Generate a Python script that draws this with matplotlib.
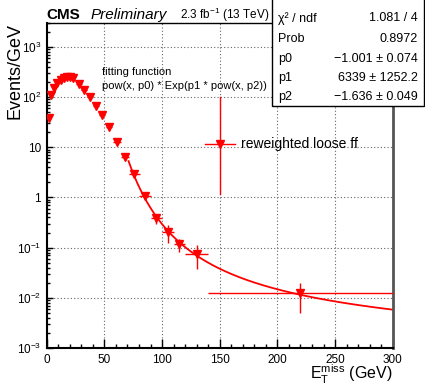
import matplotlib
matplotlib.use("Agg")
import matplotlib.pyplot as plt
import numpy as np
from matplotlib.patches import Rectangle
from matplotlib.ticker import MultipleLocator, LogLocator, FuncFormatter, NullFormatter

plt.rcParams['font.family'] = ['Liberation Sans', 'DejaVu Sans']
plt.rcParams['mathtext.fontset'] = 'custom'
plt.rcParams['mathtext.rm'] = 'Liberation Sans'
plt.rcParams['mathtext.it'] = 'Liberation Sans:italic'
plt.rcParams['mathtext.bf'] = 'Liberation Sans:bold'

met = [2.0, 3.7, 6.6, 9.2, 12.1, 15.0, 17.3, 19.9, 22.8, 27.7, 32.3, 37.8,
       42.7, 47.9, 54.0, 61.2, 68.2, 76.0, 85, 95, 105, 115, 130, 220]
met_err = [1.25, 1.25, 1.25, 1.25, 1.25, 1.25, 1.25, 1.25, 1.25, 2.5, 2.5, 2.5,
           2.5, 2.5, 2.5, 3.5, 3.5, 5, 5, 5, 5, 5, 10, 80]
events = [37.5, 109, 155, 192, 224, 246, 253, 249, 235, 181, 137, 99.5,
          66.8, 44.2, 25.9, 12.8, 6.33, 2.90, 1.08, 0.382, 0.204, 0.116, 0.0742, 0.01225]
events_err = [2, 3, 4, 4, 5, 5, 5, 5, 5, 4, 4, 3,
              2.5, 2, 1.5, 1, 0.6, 0.35, 0.15, 0.08, 0.08, 0.034, 0.037, 0.0072]

# fit result from the stats box
p0, p1, p2 = -1.001, 6339.0, -1.636
fit_range = (71, 300)

stats_names = ["χ² / ndf", "Prob", "p0", "p1", "p2"]
stats_vals = ["1.081 / 4", "0.8972", "\u22121.001 \u00b1 0.074",
              "6339 \u00b1 1252.2", "\u22121.636 \u00b1 0.049"]

W, H = 425, 386
fig = plt.figure(figsize=(W / 100, H / 100), dpi=100, facecolor="white")
ax = fig.add_axes([46.7 / W, 1 - 348 / H, 346 / W, 325 / H])

ax.errorbar(met, events, xerr=met_err, yerr=events_err, fmt="v", color="red",
            ms=6, elinewidth=1, capsize=0, zorder=3)

xf = np.linspace(fit_range[0], fit_range[1], 400)
ax.plot(xf, xf**p0 * np.exp(p1 * xf**p2), color="red", lw=1.3, zorder=2)

ax.set_yscale("log")
ax.set_xlim(0, 300)
ax.set_ylim(1e-3, 3e3)

ax.xaxis.set_major_locator(MultipleLocator(50))
ax.xaxis.set_minor_locator(MultipleLocator(10))
ax.yaxis.set_major_locator(LogLocator(base=10, numticks=15))
ax.yaxis.set_minor_locator(LogLocator(base=10, subs=np.arange(2, 10), numticks=15))
ax.yaxis.set_minor_formatter(NullFormatter())


def ylab(v, pos):
    e = int(round(np.log10(v)))
    if e == 0:
        return "1"
    if e == 1:
        return "10"
    return "10$^{%d}$" % e


ax.yaxis.set_major_formatter(FuncFormatter(ylab))
ax.tick_params(axis="x", which="major", direction="in", length=6.5, width=1, labelsize=8.5, pad=4)
ax.tick_params(axis="x", which="minor", direction="in", length=3.2, width=1)
ax.tick_params(axis="y", which="major", direction="in", length=4.3, width=1, labelsize=8.5, pad=4)
ax.tick_params(axis="y", which="minor", direction="in", length=2.2, width=1)

ax.grid(True, which="major", ls=(0, (1, 2)), color="#666666", lw=0.8)

for s in ["left", "bottom"]:
    ax.spines[s].set_linewidth(1.5)
ax.spines["top"].set_linewidth(1)
ax.spines["right"].set_linewidth(2)
ax.spines["right"].set_color("#555555")

ax.set_ylabel("Events/GeV", fontsize=13, loc="top")
ax.yaxis.set_label_coords(-0.068, 1.0)
ax.set_xlabel(r"E$_{\mathrm{T}}^{\mathrm{miss}}$ (GeV)", fontsize=11.5, loc="right", va="bottom")
ax.xaxis.set_label_coords(1.0, -0.116)

# fit function note
ax.text(0.159, 0.849, "fitting function", transform=ax.transAxes, fontsize=8, va="center")
ax.text(0.159, 0.806, "pow(x, p0) * Exp(p1 * pow(x, p2))", transform=ax.transAxes,
        fontsize=8, va="center")

# legend entry
lx, ly = 0.501, 0.627
ax.plot([lx, lx], [0.473, 0.773], color="red", lw=1, transform=ax.transAxes, clip_on=False)
ax.plot([0.4575, 0.544], [ly, ly], color="red", lw=1, transform=ax.transAxes, clip_on=False)
ax.plot([lx], [ly], "v", color="red", ms=6, transform=ax.transAxes, clip_on=False)
ax.text(0.5616, ly, "reweighted loose ff", transform=ax.transAxes, fontsize=10, va="center")

# header
fig.text(46.7 / W, 1 - 19 / H, "CMS", fontsize=11, fontweight="bold", va="baseline")
fig.text(90.7 / W, 1 - 19 / H, "Preliminary", fontsize=11, style="italic", va="baseline")
fig.text(180 / W, 1 - 19 / H, "2.3 fb$^{-1}$ (13 TeV)", fontsize=8.5, va="baseline")

# stats box
fig.add_artist(Rectangle((271.7 / W, 1 - 106 / H), (423.5 - 271.7) / W, 106 / H + 0.01,
                         transform=fig.transFigure, facecolor="white", edgecolor="black",
                         lw=1, zorder=10))
rows_y = [18.3, 39, 59, 78, 97]
for name, val, yy in zip(stats_names, stats_vals, rows_y):
    fig.text(278 / W, 1 - yy / H, name, fontsize=9, va="center", zorder=11)
    fig.text(418 / W, 1 - yy / H, val, fontsize=9, va="center", ha="right", zorder=11)

fig.savefig("out.png", dpi=100)
